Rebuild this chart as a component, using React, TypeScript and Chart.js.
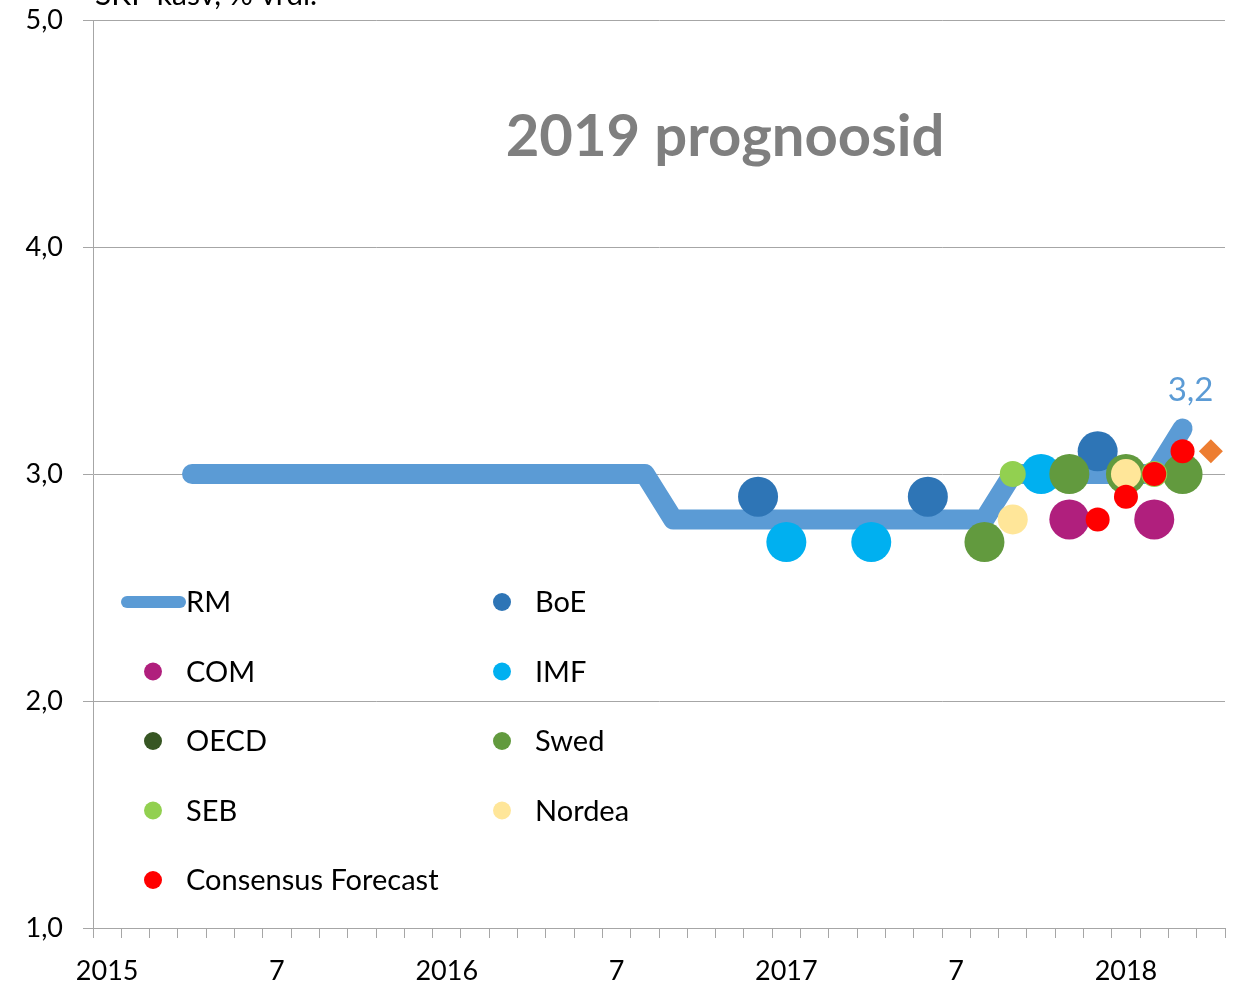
import React, { useEffect, useRef } from "react";
import { Chart, registerables } from "chart.js";

Chart.register(...registerables);

// Months from 2015-01 to 2018-04
const categories: string[] = [
  "2015-01", "2015-02", "2015-03", "2015-04", "2015-05", "2015-06", "2015-07", "2015-08", "2015-09", "2015-10", "2015-11", "2015-12",
  "2016-01", "2016-02", "2016-03", "2016-04", "2016-05", "2016-06", "2016-07", "2016-08", "2016-09", "2016-10", "2016-11", "2016-12",
  "2017-01", "2017-02", "2017-03", "2017-04", "2017-05", "2017-06", "2017-07", "2017-08", "2017-09", "2017-10", "2017-11", "2017-12",
  "2018-01", "2018-02", "2018-03", "2018-04",
];

const yTicks = [1, 2, 3, 4, 5];

// RM forecast line (per month)
const rmValues: (number | null)[] = [
  null, null, null, 3.0, 3.0, 3.0, 3.0, 3.0, 3.0, 3.0, 3.0, 3.0,
  3.0, 3.0, 3.0, 3.0, 3.0, 3.0, 3.0, 3.0, 2.8, 2.8, 2.8, 2.8,
  2.8, 2.8, 2.8, 2.8, 2.8, 2.8, 2.8, 2.8, 3.0, 3.0, 3.0, 3.0,
  3.0, 3.0, 3.2, null,
];

type Pt = { x: string; y: number };
const boe: Pt[] = [ { x: "2016-12", y: 2.9 }, { x: "2017-06", y: 2.9 }, { x: "2017-12", y: 3.1 } ];
const imf: Pt[] = [ { x: "2017-01", y: 2.7 }, { x: "2017-04", y: 2.7 }, { x: "2017-10", y: 3.0 } ];
const com: Pt[] = [ { x: "2017-11", y: 2.8 }, { x: "2018-02", y: 2.8 } ];
const oecd: Pt[] = [];
const swed: Pt[] = [ { x: "2017-08", y: 2.7 }, { x: "2017-11", y: 3.0 }, { x: "2018-01", y: 3.0 }, { x: "2018-03", y: 3.0 } ];
const seb: Pt[] = [ { x: "2017-09", y: 3.0 }, { x: "2018-02", y: 3.0 } ];
const nordea: Pt[] = [ { x: "2017-09", y: 2.8 }, { x: "2018-01", y: 3.0 } ];
const consensus: Pt[] = [ { x: "2017-12", y: 2.8 }, { x: "2018-01", y: 2.9 }, { x: "2018-02", y: 3.0 }, { x: "2018-03", y: 3.1 } ];
const latest: Pt[] = [ { x: "2018-04", y: 3.1 } ];

const C = {
  rm: "#5B9BD5",
  boe: "#2E75B6",
  com: "#B01F7D",
  imf: "#00B0F0",
  oecd: "#375623",
  swed: "#629A3E",
  seb: "#92D050",
  nordea: "#FFE699",
  cons: "#FF0000",
  latest: "#ED7D31",
};

const legendItems = [
  { label: "RM", color: C.rm, line: true },
  { label: "BoE", color: C.boe },
  { label: "COM", color: C.com },
  { label: "IMF", color: C.imf },
  { label: "OECD", color: C.oecd },
  { label: "Swed", color: C.swed },
  { label: "SEB", color: C.seb },
  { label: "Nordea", color: C.nordea },
  { label: "Consensus Forecast", color: C.cons },
];

const FONT = "Lato, 'Open Sans', sans-serif";

const overlayPlugin = {
  id: "overlay",
  afterDraw(chart: any) {
    const ctx = chart.ctx as CanvasRenderingContext2D;
    const area = chart.chartArea;
    const xs = chart.scales.x;
    const ys = chart.scales.y;
    ctx.save();

    // axis caption (mostly cut off at top)
    ctx.fillStyle = "#000";
    ctx.font = `30px ${FONT}`;
    ctx.textAlign = "left";
    ctx.textBaseline = "alphabetic";
    ctx.fillText("SKP kasv, % vrdl.", area.left + 2, area.top - 15);

    // title
    ctx.fillStyle = "#7F7F7F";
    ctx.font = `bold 58px ${FONT}`;
    ctx.textAlign = "center";
    ctx.textBaseline = "middle";
    ctx.fillText("2019 prognoosid", area.left + 632, area.top + 117);

    // last RM value label
    const li = 38;
    const lx = xs.getPixelForValue(li);
    const lyv = ys.getPixelForValue(rmValues[li] as number);
    ctx.fillStyle = C.rm;
    ctx.font = `33px ${FONT}`;
    ctx.textAlign = "center";
    ctx.fillText("3,2", lx + 8, lyv - 38);

    // legend
    const rowY0 = area.top + 582;
    const rowH = 69.5;
    const colX = [area.left + 60, area.left + 409];
    ctx.font = `29px ${FONT}`;
    ctx.textAlign = "left";
    ctx.textBaseline = "middle";
    legendItems.forEach((it, i) => {
      const col = i % 2;
      const row = Math.floor(i / 2);
      const cx = colX[col];
      const cy = rowY0 + row * rowH;
      if (it.line) {
        ctx.strokeStyle = it.color;
        ctx.lineWidth = 12;
        ctx.lineCap = "round";
        ctx.beginPath();
        ctx.moveTo(cx - 26, cy);
        ctx.lineTo(cx + 27, cy);
        ctx.stroke();
      } else {
        ctx.fillStyle = it.color;
        ctx.beginPath();
        ctx.arc(cx, cy, 9, 0, Math.PI * 2);
        ctx.fill();
      }
      ctx.fillStyle = "#000";
      ctx.fillText(it.label, cx + 33, cy + 1);
    });
    ctx.restore();
  },
};

function pts(label: string, data: Pt[], color: string, r: number, order: number, style: string = "circle") {
  return {
    label,
    data,
    showLine: false,
    backgroundColor: color,
    borderColor: color,
    pointBackgroundColor: color,
    pointBorderColor: color,
    pointBorderWidth: 0,
    pointRadius: r,
    pointStyle: style,
    order,
  };
}

export default function App() {
  const ref = useRef<HTMLCanvasElement | null>(null);
  useEffect(() => {
    if (!ref.current) return;
    Chart.defaults.font.family = FONT;
    const chart = new Chart(ref.current, {
      type: "line",
      data: {
        labels: categories,
        datasets: [
          {
            label: "RM",
            data: rmValues,
            borderColor: C.rm,
            backgroundColor: C.rm,
            borderWidth: 20,
            borderCapStyle: "round",
            borderJoinStyle: "round",
            pointRadius: 0,
            tension: 0,
            spanGaps: false,
            order: 20,
          } as any,
          pts("IMF", imf, C.imf, 20, 12),
          pts("BoE", boe, C.boe, 20, 11),
          pts("COM", com, C.com, 20, 10),
          pts("OECD", oecd, C.oecd, 20, 9),
          pts("Swed", swed, C.swed, 20, 8),
          pts("SEB", seb, C.seb, 13, 6),
          pts("Nordea", nordea, C.nordea, 15, 5),
          pts("Consensus Forecast", consensus, C.cons, 12, 3),
          pts("Viimane", latest, C.latest, 12, 1, "rectRot"),
        ],
      },
      options: {
        animation: false,
        responsive: false,
        events: [],
        layout: { padding: { top: 20, right: 20, left: 0, bottom: 0 } },
        plugins: {
          legend: { display: false },
          tooltip: { enabled: false },
          title: { display: false },
        },
        scales: {
          x: {
            type: "category",
            offset: true,
            grid: {
              offset: true,
              drawOnChartArea: false,
              drawTicks: true,
              tickLength: 10,
              color: "#A6A6A6",
            },
            border: { color: "#A6A6A6" },
            ticks: {
              autoSkip: false,
              maxRotation: 0,
              minRotation: 0,
              padding: 17,
              color: "#000",
              font: { size: 27, family: FONT },
              callback: (_v: any, i: number) => {
                const c = categories[i];
                const m = c.slice(5);
                if (m === "01") return c.slice(0, 4);
                if (m === "07") return "7";
                return "";
              },
            },
            afterFit: (s: any) => {
              s.height = 56;
            },
          },
          y: {
            min: yTicks[0],
            max: yTicks[yTicks.length - 1],
            afterBuildTicks: (s: any) => {
              s.ticks = yTicks.map((v) => ({ value: v }));
            },
            grid: {
              color: "#A6A6A6",
              tickLength: 10,
              drawTicks: true,
            },
            border: { color: "#A6A6A6" },
            ticks: {
              padding: 20,
              color: "#000",
              font: { size: 27, family: FONT },
              callback: (v: any) => Number(v).toFixed(1).replace(".", ","),
            },
            afterFit: (s: any) => {
              s.width = 93;
              s.paddingTop = 0;
              s.paddingBottom = 0;
            },
          },
        },
      } as any,
      plugins: [overlayPlugin],
    });
    return () => chart.destroy();
  }, []);

  return (
    <div style={{ position: "absolute", left: 0, top: 0, width: 1245, height: 984 }}>
      <canvas ref={ref} width={1245} height={984} style={{ display: "block" }} />
    </div>
  );
}
